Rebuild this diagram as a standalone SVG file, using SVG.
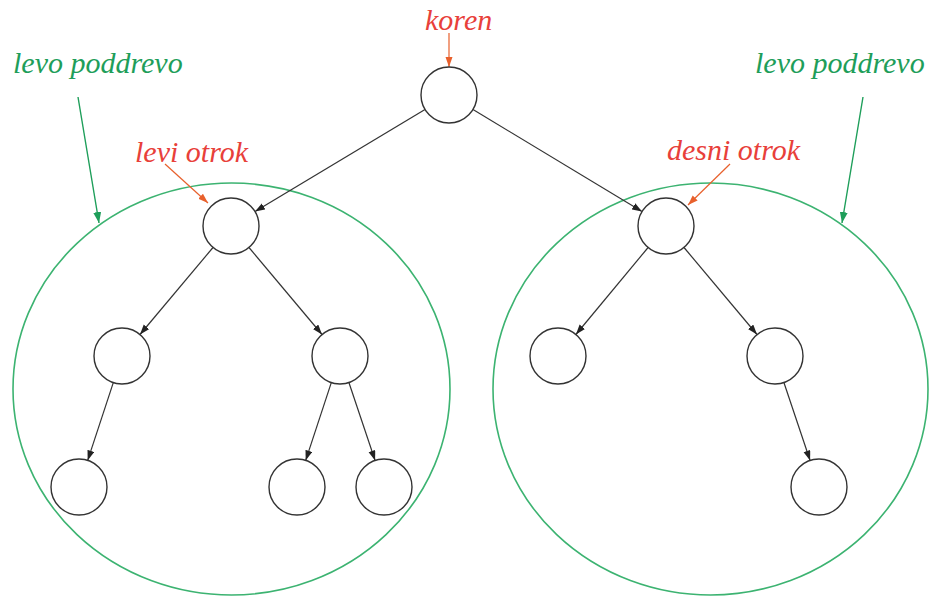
<svg xmlns="http://www.w3.org/2000/svg" width="930" height="596" viewBox="0 0 930 596">
<style>
.node{fill:#fff;stroke:#333;stroke-width:1.4}
.edge{stroke:#333;stroke-width:1.2;fill:none;marker-end:url(#ab)}
.oedge{stroke:#e8602c;stroke-width:1.2;fill:none;marker-end:url(#ao)}
.gedge{stroke:#1e9e5a;stroke-width:1.4;fill:none;marker-end:url(#ag)}
.sub{fill:none;stroke:#3cb371;stroke-width:1.6}
.lbl{font-family:"Liberation Serif",serif;font-style:italic;font-size:30px}
.red{fill:#e8403a}
.grn{fill:#1e9e5a}
</style>
<defs>
<marker id="ab" markerUnits="userSpaceOnUse" markerWidth="10" markerHeight="8" refX="10" refY="3.5" orient="auto"><path d="M0,0 L10,3.5 L0,7 z" fill="#222"/></marker>
<marker id="ao" markerUnits="userSpaceOnUse" markerWidth="10" markerHeight="8" refX="10" refY="3.5" orient="auto"><path d="M0,0 L10,3.5 L0,7 z" fill="#e8602c"/></marker>
<marker id="ag" markerUnits="userSpaceOnUse" markerWidth="11" markerHeight="8" refX="11" refY="4" orient="auto"><path d="M0,0 L11,4 L0,8 z" fill="#1e9e5a"/></marker>
</defs>
<g id="subtrees">
<ellipse id="left-subtree" class="sub" cx="231.5" cy="389" rx="218.5" ry="206"/>
<ellipse id="right-subtree" class="sub" cx="710.5" cy="389" rx="217.5" ry="206"/>
</g>
<g id="connectors">
<line class="edge" x1="425" y1="109.4" x2="255" y2="211.6"/>
<line class="edge" x1="473" y1="109.5" x2="642" y2="211.5"/>
<line class="edge" x1="213" y1="247.5" x2="140" y2="334.5"/>
<line class="edge" x1="249" y1="247.5" x2="322" y2="334.5"/>
<line class="edge" x1="113.3" y1="382.6" x2="87.7" y2="460.4"/>
<line class="edge" x1="331.3" y1="382.6" x2="305.7" y2="460.4"/>
<line class="edge" x1="348.9" y1="382.5" x2="375.1" y2="460.5"/>
<line class="edge" x1="648.1" y1="247.5" x2="575.9" y2="334.5"/>
<line class="edge" x1="684" y1="247.5" x2="757" y2="334.5"/>
<line class="edge" x1="783.9" y1="382.5" x2="810.1" y2="460.5"/>
<line class="oedge" x1="449" y1="33" x2="449" y2="67"/>
<line class="oedge" x1="165" y1="164" x2="208" y2="203"/>
<line class="oedge" x1="730" y1="164" x2="688" y2="205"/>
<line class="gedge" x1="78" y1="97" x2="99" y2="223"/>
<line class="gedge" x1="863" y1="97" x2="842" y2="223"/>
</g>
<g id="n-root"><circle class="node" cx="449" cy="95" r="28"/></g>
<g id="n-L"><circle class="node" cx="231" cy="226" r="28"/></g>
<g id="n-R"><circle class="node" cx="666" cy="226" r="28"/></g>
<g id="n-LL"><circle class="node" cx="122" cy="356" r="28"/></g>
<g id="n-LR"><circle class="node" cx="340" cy="356" r="28"/></g>
<g id="n-LLL"><circle class="node" cx="79" cy="487" r="28"/></g>
<g id="n-LRL"><circle class="node" cx="297" cy="487" r="28"/></g>
<g id="n-LRR"><circle class="node" cx="384" cy="487" r="28"/></g>
<g id="n-RL"><circle class="node" cx="558" cy="356" r="28"/></g>
<g id="n-RR"><circle class="node" cx="775" cy="356" r="28"/></g>
<g id="n-RRR"><circle class="node" cx="819" cy="487" r="28"/></g>
<g id="labels">
<text class="lbl red" x="425" y="30">koren</text>
<text class="lbl grn" x="13" y="73">levo poddrevo</text>
<text class="lbl grn" x="755" y="73">levo poddrevo</text>
<text class="lbl red" x="135" y="162">levi otrok</text>
<text class="lbl red" x="667" y="160">desni otrok</text>
</g>
</svg>
